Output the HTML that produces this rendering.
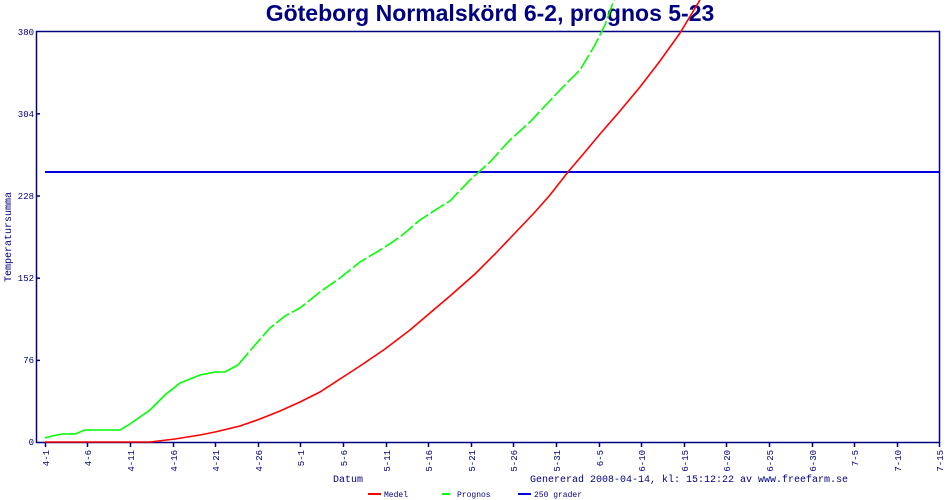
<!DOCTYPE html>
<html><head><meta charset="utf-8"><style>body{margin:0;background:#fff}svg{display:block}</style></head><body>
<svg width="950" height="500" xmlns="http://www.w3.org/2000/svg" font-family="Liberation Mono, DejaVu Sans Mono, monospace">
<rect width="950" height="500" fill="#fff"/>
<text x="490" y="21" text-anchor="middle" font-family="Liberation Sans, sans-serif" font-weight="bold" font-size="23" fill="#000080">Göteborg Normalskörd 6-2, prognos 5-23</text>
<rect x="36.5" y="31.5" width="903" height="411" fill="none" stroke="#000080" stroke-width="1.5"/>
<g stroke="#000080" stroke-width="1.5">
<line x1="36" y1="113.8" x2="40" y2="113.8"/><line x1="36" y1="196" x2="40" y2="196"/><line x1="36" y1="278.2" x2="40" y2="278.2"/><line x1="36" y1="360.4" x2="40" y2="360.4"/>
</g>
<g font-size="9" fill="#000080" text-anchor="end">
<text x="34" y="35">380</text><text x="34" y="117">304</text><text x="34" y="199">228</text><text x="34" y="281">152</text><text x="34" y="363">76</text><text x="34" y="445">0</text>
</g>
<text transform="translate(11,237) rotate(-90)" text-anchor="middle" font-size="10" fill="#000080">Temperatursumma</text>
<g font-size="9" fill="#000080" text-anchor="end">
<text transform="translate(49,450) rotate(-90)">4-1</text>
<text transform="translate(91,450) rotate(-90)">4-6</text>
<text transform="translate(134,450) rotate(-90)">4-11</text>
<text transform="translate(177,450) rotate(-90)">4-16</text>
<text transform="translate(219,450) rotate(-90)">4-21</text>
<text transform="translate(262,450) rotate(-90)">4-26</text>
<text transform="translate(304,450) rotate(-90)">5-1</text>
<text transform="translate(347,450) rotate(-90)">5-6</text>
<text transform="translate(390,450) rotate(-90)">5-11</text>
<text transform="translate(432,450) rotate(-90)">5-16</text>
<text transform="translate(475,450) rotate(-90)">5-21</text>
<text transform="translate(517,450) rotate(-90)">5-26</text>
<text transform="translate(560,450) rotate(-90)">5-31</text>
<text transform="translate(603,450) rotate(-90)">6-5</text>
<text transform="translate(645,450) rotate(-90)">6-10</text>
<text transform="translate(688,450) rotate(-90)">6-15</text>
<text transform="translate(730,450) rotate(-90)">6-20</text>
<text transform="translate(773,450) rotate(-90)">6-25</text>
<text transform="translate(816,450) rotate(-90)">6-30</text>
<text transform="translate(858,450) rotate(-90)">7-5</text>
<text transform="translate(901,450) rotate(-90)">7-10</text>
<text transform="translate(943,450) rotate(-90)">7-15</text>
</g>
<g stroke="#000080" stroke-width="1.5">
<line x1="45.5" y1="442" x2="45.5" y2="447"/><line x1="87.5" y1="442" x2="87.5" y2="447"/><line x1="130.5" y1="442" x2="130.5" y2="447"/><line x1="173.5" y1="442" x2="173.5" y2="447"/><line x1="215.5" y1="442" x2="215.5" y2="447"/><line x1="258.5" y1="442" x2="258.5" y2="447"/><line x1="300.5" y1="442" x2="300.5" y2="447"/><line x1="343.5" y1="442" x2="343.5" y2="447"/><line x1="386.5" y1="442" x2="386.5" y2="447"/><line x1="428.5" y1="442" x2="428.5" y2="447"/><line x1="471.5" y1="442" x2="471.5" y2="447"/><line x1="513.5" y1="442" x2="513.5" y2="447"/><line x1="556.5" y1="442" x2="556.5" y2="447"/><line x1="599.5" y1="442" x2="599.5" y2="447"/><line x1="641.5" y1="442" x2="641.5" y2="447"/><line x1="684.5" y1="442" x2="684.5" y2="447"/><line x1="726.5" y1="442" x2="726.5" y2="447"/><line x1="769.5" y1="442" x2="769.5" y2="447"/><line x1="812.5" y1="442" x2="812.5" y2="447"/><line x1="854.5" y1="442" x2="854.5" y2="447"/><line x1="897.5" y1="442" x2="897.5" y2="447"/><line x1="939.5" y1="442" x2="939.5" y2="447"/>
</g>
<line x1="45" y1="172" x2="940" y2="172" stroke="#0000dd" stroke-width="2"/>
<polyline fill="none" stroke="#00ff00" stroke-width="1.6" points="45,438 52,436 62,434 75,434 85,430 120,430 130,424 150,410 165,395 180,383 200,375 215,372 225,372 238,365"/>
<polyline fill="none" stroke="#00ff00" stroke-width="1.6" stroke-dasharray="16,3" points="238,365 255,345 270,328 285,316 300,308 320,292 340,278 360,262 385,247 400,237 420,220 440,207 450,201 470,180 490,162 510,140 530,122 560,90 580,70 595,45 605,25 614,0"/>
<polyline fill="none" stroke="#ff0000" stroke-width="1.6" points="45,442 150,442 175,439 200,435 215,432 240,426 260,419 280,411 300,402 320,392 340,379 360,366 385,349 410,330 430,313 450,296 475,274 495,254 515,233 535,212 550,195 568,172 585,152 600,134 620,111 640,87 660,61 680,33 700,0"/>
<text x="348" y="482" text-anchor="middle" font-size="10" fill="#000080">Datum</text>
<text x="530" y="482" font-size="10" fill="#000080">Genererad 2008-04-14, kl: 15:12:22 av www.freefarm.se</text>
<line x1="368" y1="494" x2="381" y2="494" stroke="#ff0000" stroke-width="2"/>
<text x="384" y="497" font-size="8" fill="#000080">Medel</text>
<line x1="442" y1="494" x2="450" y2="494" stroke="#00ff00" stroke-width="2"/>
<text x="457" y="497" font-size="8" fill="#000080">Prognos</text>
<line x1="518" y1="494" x2="531" y2="494" stroke="#0000dd" stroke-width="2"/>
<text x="534" y="497" font-size="8" fill="#000080">250 grader</text>
</svg>
</body></html>
